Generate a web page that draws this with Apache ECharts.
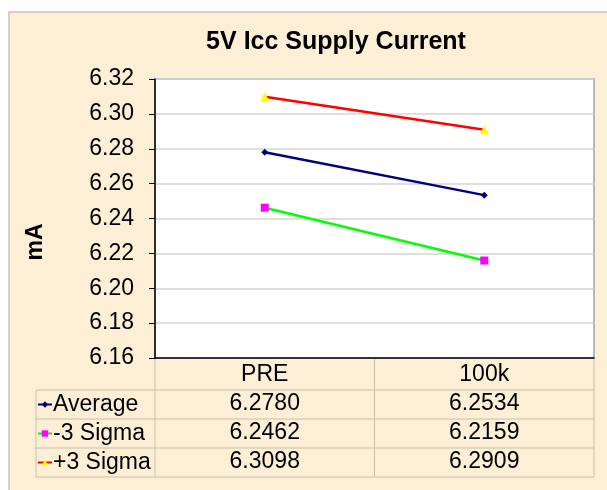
<!DOCTYPE html>
<html><head><meta charset="utf-8">
<script src="https://cdn.jsdelivr.net/npm/echarts@6/dist/echarts.min.js"></script>
<style>html,body{margin:0;padding:0;background:#fff}#c{width:607px;height:490px}</style>
</head><body><div id="c"></div>
<script>
const categories = ['PRE', '100k'];
const seriesNames = ['Average', '-3 Sigma', '+3 Sigma'];
const average = [6.2780, 6.2534];
const minus3Sigma = [6.2462, 6.2159];
const plus3Sigma = [6.3098, 6.2909];
const yTicks = { min: 6.16, max: 6.32, step: 0.02 };

const seriesValues = [average, minus3Sigma, plus3Sigma];
const colors = ['#000080', '#00ff00', '#ff0000'];
const markerColors = ['#000080', '#ff00ff', '#ffff00'];
const symbols = ['diamond', 'rect', 'triangle'];
const symbolSizes = [7, 8, 9];

const FONT = '"Liberation Sans", Arial, sans-serif';
const G = { left: 155, top: 79, right: 594, bottom: 358 };
const rowH = 29;
const tableLeft = 36;
const tableLine = '#c8bfa8';

const chart = echarts.init(document.getElementById('c'), null, { renderer: 'canvas' });

const graphics = [];
graphics.push({ type: 'rect', shape: { x: 9, y: 12, width: 620, height: 500 }, style: { fill: '#fcefd6', stroke: '#c8c4bc', lineWidth: 1.5 }, z: -10, silent: true });
graphics.push({ type: 'rect', shape: { x: G.left, y: G.top, width: G.right - G.left, height: G.bottom - G.top }, style: { fill: '#ffffff', stroke: '#b8b8b8', lineWidth: 2 }, z: -9, silent: true });
const nRows = seriesNames.length;
for (let i = 0; i <= nRows; i++) {
  const y = G.bottom + rowH * (i + 1) + 3;
  graphics.push({ type: 'line', shape: { x1: tableLeft, y1: y, x2: G.right, y2: y }, style: { stroke: tableLine, lineWidth: 1 }, silent: true });
}
const tableBottom = G.bottom + rowH * (nRows + 1) + 3;
const colMid = (G.left + G.right) / 2;
[[tableLeft, G.bottom + rowH + 3], [G.left, G.bottom], [colMid, G.bottom], [G.right, G.bottom]].forEach(([x, y0]) => {
  graphics.push({ type: 'line', shape: { x1: x, y1: y0, x2: x, y2: tableBottom }, style: { stroke: tableLine, lineWidth: 1 }, silent: true });
});
graphics.push({ type: 'text', x: 36, y: 242, rotation: Math.PI / 2,
  style: { text: 'mA', fontFamily: FONT, fontSize: 23, fontWeight: 'bold', fill: '#000', align: 'center', verticalAlign: 'middle' }, silent: true });

const legends = seriesNames.map((n, i) => ({
  data: [n],
  left: tableLeft + 1,
  top: G.bottom + rowH * (i + 1) + 3 + rowH / 2 - 12,
  padding: 0,
  itemWidth: 14,
  itemHeight: 8,
  itemGap: 0,
  selectedMode: false,
  textStyle: { fontFamily: FONT, fontSize: 23, color: '#000', padding: [0, 0, 0, -4], lineHeight: 24 }
}));

const option = {
  backgroundColor: 'transparent',
  animation: false,
  title: {
    text: '5V Icc Supply Current',
    left: 331, top: 25, textAlign: 'center',
    textStyle: { fontFamily: FONT, fontSize: 25, fontWeight: 'bold', color: '#000' }
  },
  graphic: graphics,
  legend: legends,
  grid: { left: G.left, top: G.top, right: 607 - G.right, bottom: 490 - G.bottom, containLabel: false },
  xAxis: {
    type: 'category',
    data: categories,
    boundaryGap: true,
    axisLine: { lineStyle: { color: '#000', width: 1.5 } },
    axisTick: { show: false },
    axisLabel: {
      margin: 2,
      interval: 0,
      fontFamily: FONT,
      fontSize: 23,
      color: '#000',
      lineHeight: rowH,
      formatter: (v, idx) => [v].concat(seriesValues.map(s => s[idx].toFixed(4))).join('\n')
    }
  },
  yAxis: {
    type: 'value',
    min: yTicks.min, max: yTicks.max, interval: yTicks.step,
    axisLine: { show: true, lineStyle: { color: '#000', width: 1.5 } },
    axisTick: { show: true, length: 6, lineStyle: { color: '#000' } },
    axisLabel: { margin: 21, fontFamily: FONT, fontSize: 23, color: '#000', formatter: v => v.toFixed(2) },
    splitLine: { lineStyle: { color: '#d4d4d4', width: 1.5 } }
  },
  series: seriesNames.map((n, i) => ({
    name: n,
    type: 'line',
    data: seriesValues[i],
    symbol: symbols[i],
    symbolSize: symbolSizes[i],
    lineStyle: { color: colors[i], width: 2.5 },
    itemStyle: { color: markerColors[i] },
    z: 3
  }))
};
chart.setOption(option);
</script>
</body></html>
